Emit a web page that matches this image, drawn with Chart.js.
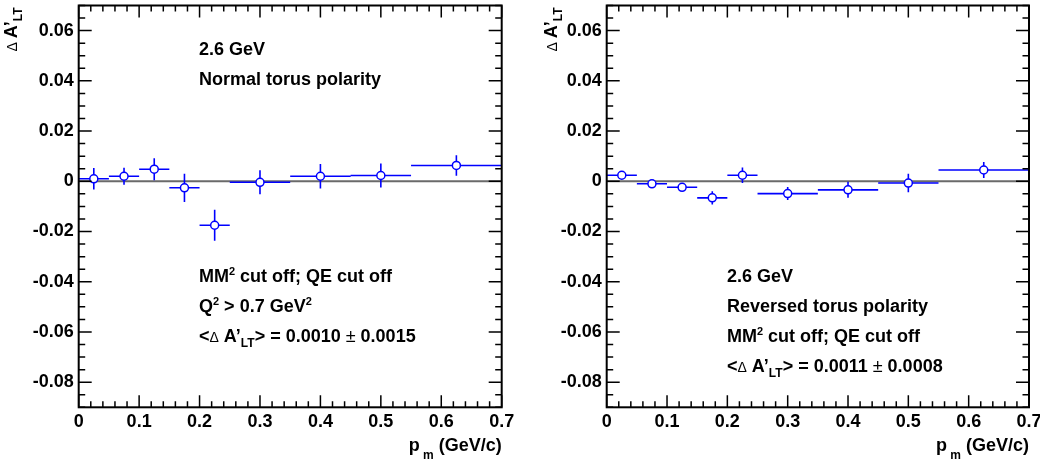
<!DOCTYPE html>
<html>
<head>
<meta charset="utf-8">
<script src="https://cdn.jsdelivr.net/npm/chart.js@4.4.1/dist/chart.umd.min.js"></script>
<style>
  html, body { margin: 0; padding: 0; background: #fff; }
  .row { display: flex; width: 1040px; height: 461px; }
  canvas { display: block; }
</style>
</head>
<body>
<div class="row">
  <canvas id="normal" width="520" height="461"></canvas>
  <canvas id="reversed" width="520" height="461"></canvas>
</div>
<script>
// p_m bins (GeV/c)
const binLo = [0, 0.05, 0.10, 0.15, 0.20, 0.25, 0.35, 0.45, 0.55];
const binHi = [0.05, 0.10, 0.15, 0.20, 0.25, 0.35, 0.45, 0.55, 0.70];
const pmCenters = [0.025, 0.075, 0.125, 0.175, 0.225, 0.30, 0.40, 0.50, 0.625];

// Delta A'_LT, normal torus polarity
const normalValues = [0.0010, 0.0020, 0.0048, -0.0026, -0.0175, -0.0004, 0.0020, 0.0023, 0.0063];
const normalErrors = [0.0043, 0.0034, 0.0044, 0.0056, 0.0062, 0.0048, 0.0049, 0.0048, 0.0041];

// Delta A'_LT, reversed torus polarity
const reversedValues = [0.0024, -0.0010, -0.0024, -0.0066, 0.0024, -0.0049, -0.0034, -0.0007, 0.0045];
const reversedErrors = [0.0012, 0.0010, 0.0015, 0.0026, 0.0031, 0.0026, 0.0032, 0.0037, 0.0032];

// axis ticks
const xTickValues = [0, 0.1, 0.2, 0.3, 0.4, 0.5, 0.6, 0.7];
const xTickLabels = ['0', '0.1', '0.2', '0.3', '0.4', '0.5', '0.6', '0.7'];
const yTickValues = [-0.08, -0.06, -0.04, -0.02, 0, 0.02, 0.04, 0.06];
const yTickLabels = ['-0.08', '-0.06', '-0.04', '-0.02', '0', '0.02', '0.04', '0.06'];
const xRange = [0, 0.7];
const yRange = [-0.09, 0.07];
const xMinorStep = 0.02, xMinorPerMajor = 5;
const yMinorStep = 0.005, yMinorPerMajor = 4;

const FONT = "'Liberation Sans', Arial, Helvetica, sans-serif";
const BLUE = '#0000ff';

// text runs: t = text, s = size, dy = baseline shift, n = normal weight
const sup2 = { t: '2', s: 11, dy: -7 };
const meanRuns = (val, err) => [
  { t: '<' }, { t: '\u0394', s: 14, n: true }, { t: ' A\u2019' }, { t: 'LT', s: 12, dy: 5 },
  { t: '> = ' + val + ' ' }, { t: '\u00b1', n: true }, { t: ' ' + err }
];
const normalNotes = [
  { y: 55, runs: [{ t: '2.6 GeV' }] },
  { y: 85, runs: [{ t: 'Normal torus polarity' }] },
  { y: 282, runs: [{ t: 'MM' }, sup2, { t: ' cut off; QE cut off' }] },
  { y: 312, runs: [{ t: 'Q' }, sup2, { t: ' > 0.7 GeV' }, sup2] },
  { y: 342, runs: meanRuns('0.0010', '0.0015') }
];
const reversedNotes = [
  { y: 282, runs: [{ t: '2.6 GeV' }] },
  { y: 312, runs: [{ t: 'Reversed torus polarity' }] },
  { y: 342, runs: [{ t: 'MM' }, sup2, { t: ' cut off; QE cut off' }] },
  { y: 372, runs: meanRuns('0.0011', '0.0008') }
];
const yTitleRuns = [{ t: '\u0394 ', s: 14, n: true }, { t: 'A\u2019' }, { t: 'LT', s: 12, dy: 5 }];
const xTitleRuns = [{ t: 'p' }, { t: ' m', s: 12, dy: 8 }, { t: ' (GeV/c)' }];

function fontOf(r) {
  return (r.n ? 'normal ' : 'bold ') + (r.s || 18) + 'px ' + FONT;
}

function drawRuns(ctx, runs, x, y, align) {
  let total = 0;
  runs.forEach(r => { ctx.font = fontOf(r); total += ctx.measureText(r.t).width; });
  let cx = align === 'right' ? x - total : x;
  runs.forEach(r => {
    ctx.font = fontOf(r);
    ctx.fillText(r.t, cx, y + (r.dy || 0));
    cx += ctx.measureText(r.t).width;
  });
}

// error bars, zero line, frame with inner ticks, titles and notes
function padPlugin(values, errors, notes, yTitleX, noteX) {
  return {
    id: 'pad',
    beforeDatasetsDraw(chart) {
      const { ctx, chartArea: a, scales: { x, y } } = chart;
      ctx.save();
      ctx.strokeStyle = '#6a6a6a';
      ctx.lineWidth = 2;
      ctx.beginPath();
      ctx.moveTo(a.left, y.getPixelForValue(0));
      ctx.lineTo(a.right, y.getPixelForValue(0));
      ctx.stroke();

      ctx.strokeStyle = BLUE;
      ctx.lineWidth = 1.6;
      ctx.beginPath();
      values.forEach((v, i) => {
        const py = y.getPixelForValue(v);
        const px = x.getPixelForValue(pmCenters[i]);
        ctx.moveTo(x.getPixelForValue(binLo[i]), py);
        ctx.lineTo(x.getPixelForValue(binHi[i]), py);
        ctx.moveTo(px, y.getPixelForValue(v + errors[i]));
        ctx.lineTo(px, y.getPixelForValue(v - errors[i]));
      });
      ctx.stroke();
      ctx.restore();
    },
    afterDraw(chart) {
      const { ctx, chartArea: a, scales: { x, y } } = chart;
      ctx.save();
      ctx.strokeStyle = '#000';
      ctx.lineWidth = 1.5;
      ctx.beginPath();
      const nx = Math.round((xRange[1] - xRange[0]) / xMinorStep);
      for (let i = 0; i <= nx; i++) {
        const px = x.getPixelForValue(xRange[0] + i * xMinorStep);
        const len = i % xMinorPerMajor === 0 ? 12 : 6;
        ctx.moveTo(px, a.bottom); ctx.lineTo(px, a.bottom - len);
        ctx.moveTo(px, a.top); ctx.lineTo(px, a.top + len);
      }
      const i0 = Math.ceil(yRange[0] / yMinorStep), i1 = Math.floor(yRange[1] / yMinorStep);
      for (let i = i0; i <= i1; i++) {
        const py = y.getPixelForValue(i * yMinorStep);
        const len = i % yMinorPerMajor === 0 ? 13 : 6.5;
        ctx.moveTo(a.left, py); ctx.lineTo(a.left + len, py);
        ctx.moveTo(a.right, py); ctx.lineTo(a.right - len, py);
      }
      ctx.stroke();
      ctx.lineWidth = 2;
      ctx.strokeRect(a.left, a.top, a.right - a.left, a.bottom - a.top);

      ctx.fillStyle = '#000';
      ctx.textAlign = 'left';
      ctx.textBaseline = 'alphabetic';
      notes.forEach(n => drawRuns(ctx, n.runs, noteX, n.y));
      drawRuns(ctx, xTitleRuns, a.right, 450.5, 'right');

      ctx.translate(yTitleX, a.top + 2);
      ctx.rotate(-Math.PI / 2);
      drawRuns(ctx, yTitleRuns, 0, 0, 'right');
      ctx.restore();
    }
  };
}

function makePanel(id, values, errors, notes, yAxisWidth, rightPad, yTitleX, noteX) {
  const tickFont = { family: FONT, size: 18, weight: 'bold' };
  return new Chart(document.getElementById(id), {
    type: 'scatter',
    data: {
      datasets: [{
        data: pmCenters.map((p, i) => ({ x: p, y: values[i] })),
        pointRadius: 4,
        pointBackgroundColor: '#fff',
        pointBorderColor: BLUE,
        pointBorderWidth: 1.5,
        showLine: false
      }]
    },
    options: {
      responsive: false,
      animation: false,
      devicePixelRatio: 1,
      layout: { padding: { left: 0, top: 5.3, right: rightPad, bottom: 0 } },
      plugins: { legend: { display: false }, tooltip: { enabled: false } },
      scales: {
        x: {
          type: 'linear', min: xRange[0], max: xRange[1],
          grid: { display: false, drawTicks: false },
          border: { display: false },
          afterBuildTicks: s => { s.ticks = xTickValues.map(v => ({ value: v })); },
          ticks: {
            font: tickFont, color: '#000', padding: 4, maxRotation: 0, autoSkip: false,
            callback: (v, i) => xTickLabels[i]
          },
          afterFit: s => { s.height = 53.7; s.paddingLeft = 0; s.paddingRight = 0; }
        },
        y: {
          type: 'linear', min: yRange[0], max: yRange[1],
          grid: { display: false, drawTicks: false },
          border: { display: false },
          afterBuildTicks: s => { s.ticks = yTickValues.map(v => ({ value: v })); },
          ticks: {
            font: tickFont, color: '#000', padding: 5, autoSkip: false,
            callback: (v, i) => yTickLabels[i]
          },
          afterFit: s => { s.width = yAxisWidth; s.paddingTop = 0; s.paddingBottom = 0; }
        }
      }
    },
    plugins: [padPlugin(values, errors, notes, yTitleX, noteX)]
  });
}

makePanel('normal', normalValues, normalErrors, normalNotes, 78.7, 18.3, 17, 199);
makePanel('reversed', reversedValues, reversedErrors, reversedNotes, 86.7, 11, 37, 207);
</script>
</body>
</html>
